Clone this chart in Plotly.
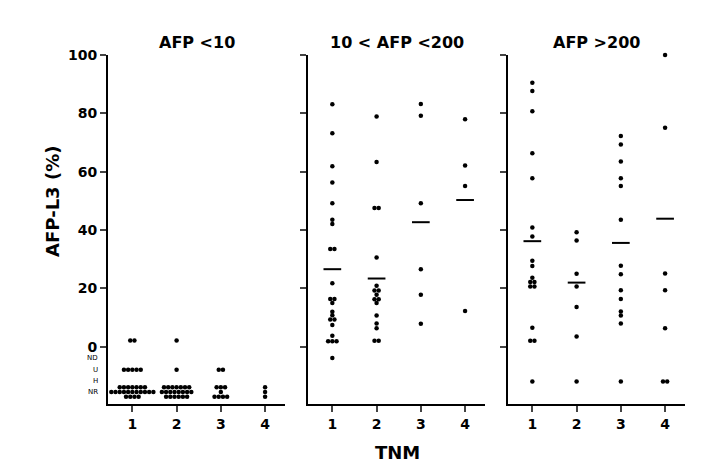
import plotly.graph_objects as go

# TNM stages and panel setup
tnm = [1, 2, 3, 4]
panel_titles = ["AFP <10", "10 < AFP <200", "AFP >200"]
y_ticks = [0, 20, 40, 60, 80, 100]

# categorical levels shown below zero
cat_labels = ["ND", "U", "H", "NR"]
cat_levels = [-3.7, -7.9, -11.8, -15.6]

# AFP-L3 (%), one list per TNM stage
low_afp = [
    [2.2] * 2 + [-7.9] * 5 + [-13.9] * 7 + [-15.5] * 11 + [-17.1] * 4,
    [2.2] + [-7.9] + [-13.9] * 7 + [-15.5] * 8 + [-17.1] * 6,
    [-7.9] * 2 + [-13.9] * 3 + [-15.5] + [-17.1] * 4,
    [-13.9, -15.5, -17.1],
]
mid_afp = [
    [83.1, 73.2, 61.9, 56.3, 49.2, 43.5, 42.1, 33.5, 33.5, 21.8, 16.4, 16.4,
     15.0, 12.0, 10.8, 9.4, 9.4, 7.5, 3.8, 1.9, 1.9, 1.9, -3.8],
    [78.9, 63.3, 47.6, 47.6, 30.6, 20.9, 19.3, 19.3, 17.8, 16.3, 16.3, 15.0,
     10.7, 8.0, 6.4, 2.1, 2.1],
    [83.2, 79.2, 49.2, 26.6, 17.8, 7.9],
    [78.0, 62.1, 55.1, 12.3],
]
high_afp = [
    [90.5, 87.7, 80.7, 66.3, 57.8, 40.9, 37.8, 29.5, 27.7, 23.7, 22.2, 22.2,
     20.7, 20.7, 6.5, 2.1, 2.1, -11.9],
    [39.3, 36.4, 25.0, 20.7, 13.6, 3.5, -11.9],
    [72.2, 69.3, 63.5, 57.8, 55.1, 43.5, 27.8, 24.9, 19.4, 16.4, 12.1, 10.7,
     8.0, -11.9],
    [100, 75.1, 25.1, 19.4, 6.4, -11.9, -11.9],
]
mid_means = [26.6, 23.4, 42.7, 50.3]
high_means = [36.2, 22.0, 35.6, 43.9]

panels = [(low_afp, None), (mid_afp, mid_means), (high_afp, high_means)]
# page body has an 8px margin, so the figure is 717x462
W = 717
domains = [[100 / W, 277 / W], [300 / W, 477 / W], [500 / W, 677 / W]]
FONT = "DejaVu Sans, sans-serif"
dx = 0.095  # side-by-side spacing for equal values

fig = go.Figure()

for p, (groups, means) in enumerate(panels):
    sfx = "" if p == 0 else str(p + 1)
    xs, ys = [], []
    for cat, vals in zip(tnm, groups):
        counts = {}
        for v in vals:
            counts[v] = counts.get(v, 0) + 1
        seen = {}
        for v in vals:
            k = seen.get(v, 0)
            seen[v] = k + 1
            xs.append(cat + (k - (counts[v] - 1) / 2) * dx)
            ys.append(v)
    fig.add_trace(go.Scatter(
        x=xs, y=ys, mode="markers",
        marker=dict(size=4.5, color="black"),
        xaxis="x" + sfx, yaxis="y" + sfx,
        cliponaxis=False, hoverinfo="skip", showlegend=False
    ))
    if means:
        mx, my = [], []
        for cat, m in zip(tnm, means):
            mx += [cat - 0.2, cat + 0.2, None]
            my += [m, m, None]
        fig.add_trace(go.Scatter(
            x=mx, y=my, mode="lines",
            line=dict(color="black", width=2),
            xaxis="x" + sfx, yaxis="y" + sfx,
            hoverinfo="skip", showlegend=False
        ))

    fig.layout["xaxis" + sfx] = dict(
        domain=domains[p], range=[0.45, 4.45], anchor="y" + sfx,
        tickvals=tnm, ticks="outside", ticklen=6, tickwidth=2,
        showline=True, linewidth=2, linecolor="black",
        showgrid=False, zeroline=False,
        tickfont=dict(family=FONT, size=14, color="black", weight="bold")
    )
    fig.layout["yaxis" + sfx] = dict(
        domain=[0, 1], range=[-19.6, 100], anchor="x" + sfx,
        tickvals=y_ticks, ticks="outside", ticklen=6, tickwidth=2,
        showticklabels=(p == 0),
        showline=True, linewidth=2, linecolor="black",
        showgrid=False, zeroline=False,
        tickfont=dict(family=FONT, size=14, color="black", weight="bold")
    )
    fig.add_annotation(
        text="<b>%s</b>" % panel_titles[p], xref="paper", yref="paper",
        x=sum(domains[p]) / 2, y=1.037, xanchor="center", yanchor="middle",
        showarrow=False, font=dict(family=FONT, size=16, color="black")
    )

for lab, lev in zip(cat_labels, cat_levels):
    fig.add_annotation(
        text=lab, xref="paper", yref="y", x=92 / W, y=lev,
        xanchor="right", yanchor="middle", showarrow=False,
        font=dict(family=FONT, size=7, color="black")
    )

fig.add_annotation(
    text="<b>AFP-L3 (%)</b>", xref="paper", yref="paper", x=45 / W, y=0.579,
    textangle=-90, xanchor="center", yanchor="middle", showarrow=False,
    font=dict(family=FONT, size=18, color="black")
)
fig.add_annotation(
    text="<b>TNM</b>", xref="paper", yref="paper", x=389 / W, y=-0.14,
    xanchor="center", yanchor="middle", showarrow=False,
    font=dict(family=FONT, size=18, color="black")
)

fig.update_layout(
    width=W, height=462,
    margin=dict(l=0, r=0, t=47, b=66),
    plot_bgcolor="white", paper_bgcolor="white",
    font=dict(family=FONT, color="black"),
    showlegend=False
)

fig.write_html("out.html")
